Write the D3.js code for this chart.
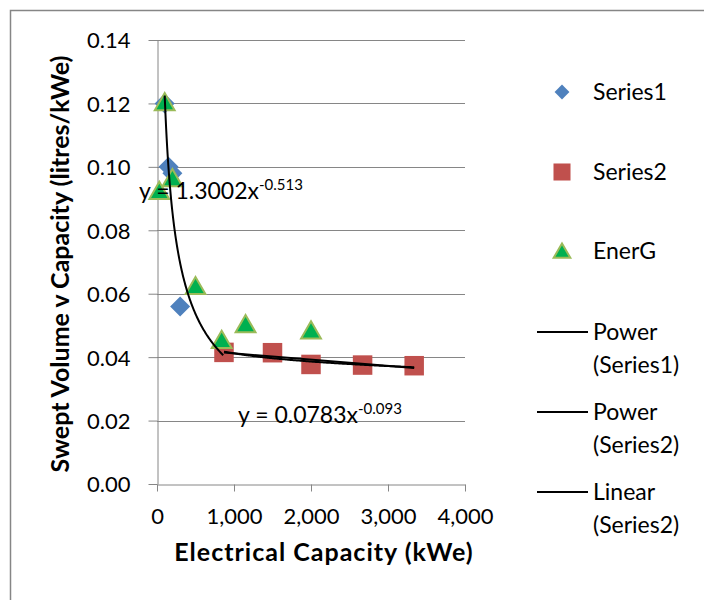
<html>

<head>
    <meta charset="utf-8" />
    <script src="https://cdn.jsdelivr.net/npm/d3@7"></script>
    <style>
        body { margin: 0; background: #fff; }
        text { font-family: Lato, "Open Sans", sans-serif; }
    </style>
</head>

<body>
    <script>
        var width = 704;
        var height = 600;

        // data
        var series1X = [100, 150, 200, 300];
        var series1Y = [0.120, 0.100, 0.098, 0.056];
        var series2X = [870, 1500, 2000, 2670, 3340];
        var series2Y = [0.0415, 0.0414, 0.0377, 0.0375, 0.0373];
        var energX = [30, 100, 200, 500, 840, 1150, 2000];
        var energY = [0.092, 0.120, 0.096, 0.062, 0.045, 0.050, 0.048];
        var xTicks = [0, 1000, 2000, 3000, 4000];
        var yTicks = [0, 0.02, 0.04, 0.06, 0.08, 0.10, 0.12, 0.14];
        // trendline equations shown on the chart
        var power1 = { a: 1.3002, b: -0.513, from: 100, to: 860 };
        var power2 = { a: 0.0783, b: -0.093, from: 870, to: 3340 };

        var grey = '#868686';
        var blue = '#4F81BD';
        var red = '#C0504D';
        var green = '#00B050';
        var greenEdge = '#9BBB59';

        var x = d3.scaleLinear().domain([0, 4000]).range([157, 465]);
        var y = d3.scaleLinear().domain([0, 0.14]).range([484, 40]);

        var svg = d3.select('body')
            .append('svg')
            .attr('width', width)
            .attr('height', height);

        // chart frame
        svg.append('rect')
            .attr('x', 10.5)
            .attr('y', 10.5)
            .attr('width', 720)
            .attr('height', 620)
            .attr('fill', 'none')
            .attr('stroke', grey)
            .attr('stroke-width', 1.5);

        // gridlines
        svg.append('g')
            .selectAll('line')
            .data(yTicks.slice(1))
            .enter()
            .append('line')
            .attr('x1', x(0))
            .attr('x2', x(4000))
            .attr('y1', function (d) { return Math.round(y(d)) + 0.5; })
            .attr('y2', function (d) { return Math.round(y(d)) + 0.5; })
            .attr('stroke', grey)
            .attr('stroke-width', 1);

        var xAxis = svg.append('g')
            .attr('transform', 'translate(0,' + (y(0) + 0.5) + ')')
            .call(d3.axisBottom(x)
                .tickValues(xTicks)
                .tickFormat(d3.format(','))
                .tickSize(7)
                .tickPadding(17)
                .tickSizeOuter(0));

        var yAxis = svg.append('g')
            .attr('transform', 'translate(' + (x(0) + 0.5) + ',0)')
            .call(d3.axisLeft(y)
                .tickValues(yTicks)
                .tickFormat(d3.format('.2f'))
                .tickSize(9)
                .tickPadding(18)
                .tickSizeOuter(0));

        [xAxis, yAxis].forEach(function (g) {
            g.select('.domain').attr('stroke', grey);
            g.selectAll('.tick line').attr('stroke', grey);
            g.selectAll('.tick text')
                .attr('fill', '#000')
                .attr('font-size', 22)
                .style('font-family', 'Lato, "Open Sans", sans-serif');
        });
        yAxis.selectAll('.tick text').attr('dy', '0.36em');

        // axis titles
        svg.append('text')
            .attr('transform', 'translate(69,264) rotate(-90)')
            .attr('text-anchor', 'middle')
            .attr('font-size', 25)
            .attr('font-weight', 'bold')
            .text('Swept Volume v Capacity (litres/kWe)');

        svg.append('text')
            .attr('x', 324)
            .attr('y', 561)
            .attr('text-anchor', 'middle')
            .attr('font-size', 25)
            .attr('font-weight', 'bold')
            .attr('letter-spacing', 1)
            .text('Electrical Capacity (kWe)');

        function zip(xs, ys) {
            return xs.map(function (v, i) { return [v, ys[i]]; });
        }

        var diamond = d3.symbol().type(d3.symbolSquare).size(200);
        var square = d3.symbol().type(d3.symbolSquare).size(380);
        var triangle = d3.symbol().type(d3.symbolTriangle).size(170);

        // trendlines
        function powerPoints(p) {
            var pts = [];
            var n = 120;
            for (var i = 0; i <= n; i++) {
                var xv = p.from + (p.to - p.from) * i / n;
                pts.push([xv, p.a * Math.pow(xv, p.b)]);
            }
            return pts;
        }
        var s2 = zip(series2X, series2Y);
        var mx = d3.mean(series2X);
        var my = d3.mean(series2Y);
        var slope = d3.sum(s2, function (d) { return (d[0] - mx) * (d[1] - my); }) /
            d3.sum(s2, function (d) { return (d[0] - mx) * (d[0] - mx); });
        var icpt = my - slope * mx;
        var linear2 = [series2X[0], series2X[series2X.length - 1]].map(function (v) {
            return [v, icpt + slope * v];
        });

        var line = d3.line()
            .x(function (d) { return x(d[0]); })
            .y(function (d) { return y(d[1]); })
            .curve(d3.curveMonotoneX);

        // markers
        svg.append('g')
            .selectAll('path')
            .data(zip(series1X, series1Y))
            .enter()
            .append('path')
            .attr('d', diamond)
            .attr('transform', function (d) {
                return 'translate(' + x(d[0]) + ',' + y(d[1]) + ') rotate(45)';
            })
            .attr('fill', blue);

        svg.append('g')
            .selectAll('path')
            .data(s2)
            .enter()
            .append('path')
            .attr('d', square)
            .attr('transform', function (d) {
                return 'translate(' + x(d[0]) + ',' + y(d[1]) + ')';
            })
            .attr('fill', red);

        svg.append('g')
            .selectAll('path')
            .data(zip(energX, energY))
            .enter()
            .append('path')
            .attr('d', triangle)
            .attr('transform', function (d) {
                return 'translate(' + x(d[0]) + ',' + (y(d[1]) + 1) + ')';
            })
            .attr('fill', green)
            .attr('stroke', greenEdge)
            .attr('stroke-width', 2);

        [powerPoints(power1), powerPoints(power2), linear2].forEach(function (pts) {
            svg.append('path')
                .datum(pts)
                .attr('d', line)
                .attr('fill', 'none')
                .attr('stroke', '#000')
                .attr('stroke-width', 2);
        });

        // equation labels
        function equation(xp, yp, a, b) {
            var t = svg.append('text')
                .attr('x', xp)
                .attr('y', yp)
                .attr('font-size', 23);
            t.append('tspan').text('y = ' + a + 'x');
            t.append('tspan')
                .attr('dy', -9)
                .attr('font-size', 15)
                .text(b);
        }
        equation(139, 199, '1.3002', '-0.513');
        equation(238, 423, '0.0783', '-0.093');

        // legend
        var legendX = 562;
        var legendText = 593;
        var leg = svg.append('g');
        leg.append('path')
            .attr('d', d3.symbol().type(d3.symbolSquare).size(110))
            .attr('transform', 'translate(' + legendX + ',92) rotate(45)')
            .attr('fill', blue);
        leg.append('path')
            .attr('d', d3.symbol().type(d3.symbolSquare).size(290))
            .attr('transform', 'translate(' + legendX + ',172)')
            .attr('fill', red);
        leg.append('path')
            .attr('d', d3.symbol().type(d3.symbolTriangle).size(120))
            .attr('transform', 'translate(' + legendX + ',253)')
            .attr('fill', green)
            .attr('stroke', greenEdge)
            .attr('stroke-width', 2);

        var markerLabels = [['Series1', 100], ['Series2', 180], ['EnerG', 259]];
        markerLabels.forEach(function (m) {
            leg.append('text')
                .attr('x', legendText)
                .attr('y', m[1])
                .attr('font-size', 23)
                .text(m[0]);
        });

        var lineLabels = [['Power', '(Series1)', 332], ['Power', '(Series2)', 412], ['Linear', '(Series2)', 492]];
        lineLabels.forEach(function (m) {
            leg.append('line')
                .attr('x1', 537)
                .attr('x2', 588)
                .attr('y1', m[2])
                .attr('y2', m[2])
                .attr('stroke', '#000')
                .attr('stroke-width', 2);
            leg.append('text')
                .attr('x', legendText)
                .attr('y', m[2] + 8)
                .attr('font-size', 23)
                .text(m[0]);
            leg.append('text')
                .attr('x', legendText)
                .attr('y', m[2] + 41)
                .attr('font-size', 23)
                .text(m[1]);
        });
    </script>
</body>

</html>
